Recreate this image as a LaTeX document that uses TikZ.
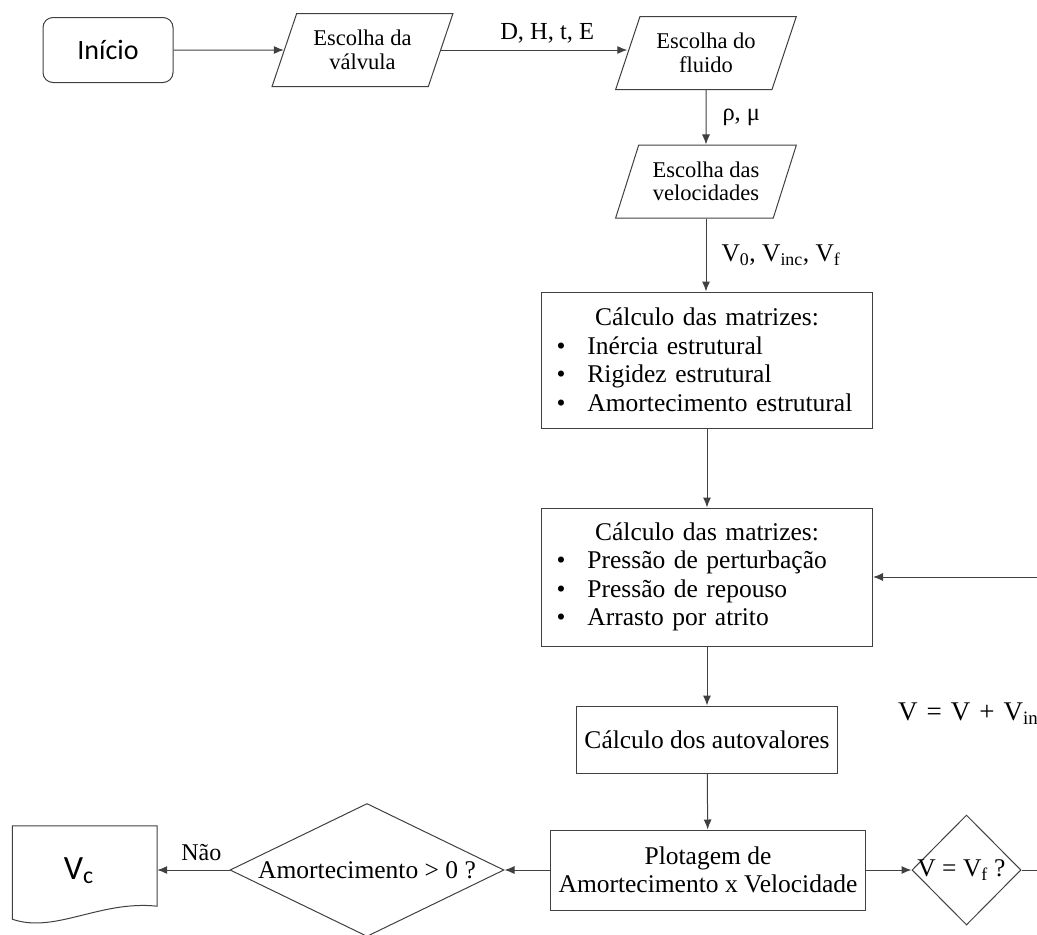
\documentclass[tikz,border=0pt]{standalone}
\usepackage{fontspec}
\setmainfont{Liberation Serif}
\newfontfamily\calibri{Carlito}
\usetikzlibrary{arrows.meta,positioning,calc,shapes.geometric}
\definecolor{edgegray}{HTML}{404040}
\tikzset{terminal/.style={rectangle,rounded corners=10pt,draw=edgegray,line width=1pt,minimum width=130pt,minimum height=65pt,font=\calibri\fontsize{28}{32}\selectfont},inout/.style={trapezium,trapezium left angle=65,trapezium right angle=115,trapezium stretches=true,draw=edgegray,line width=1pt,minimum width=181pt,minimum height=73pt,inner sep=0pt,align=center,font=\fontsize{22.5}{23.5}\selectfont},process/.style={rectangle,draw=edgegray,line width=1pt,inner sep=0pt,align=center,font=\fontsize{25.5}{28.5}\selectfont},decision/.style={diamond,draw=edgegray,line width=1pt,inner sep=0pt},flow/.style={-{Latex[length=10pt,width=8pt]},edgegray,line width=1pt},note/.style={text=black,font=\fontsize{24.5}{28}\selectfont,inner sep=0pt}}
\newcommand{\itm}[1]{\makebox[31pt][l]{\textbullet}#1}
\newcommand{\gap}{\hspace{9pt}}

\begin{document}
\begin{tikzpicture}[x=1pt,y=-1pt,bignote/.style={note,font=\fontsize{25.5}{28}\selectfont}]
\useasboundingbox (0,0) rectangle (1037,935);
\clip (0,0) rectangle (1037,935);
% top row
\node[terminal] (inicio) at (108,50) {Início};
\node[inout] (valv) at (362.5,50) {Escolha da\\válvula};
\node[inout] (fluido) at (706,53) {Escolha do\\fluido};
\node[inout] (veloc) at (706,181.5) {Escolha das\\velocidades};
% main column
\node[process,text width=301pt,inner xsep=15pt,minimum height=136pt,align=left] (estr) at (707,360) {\hfill Cálculo das matrizes:\hfill\null\\\itm{Inércia estrutural}\\\itm{Rigidez estrutural}\\\itm{Amortecimento estrutural}};
\node[process,text width=301pt,inner xsep=15pt,minimum height=138pt,align=left] (fluid) at (707,577) {\hfill Cálculo das matrizes:\hfill\null\\\itm{Pressão de perturbação}\\\itm{Pressão de repouso}\\\itm{Arrasto por atrito}};
\node[process,minimum width=261pt,minimum height=67pt] (autoval) at (707,739.5) {Cálculo dos autovalores};
\node[process,minimum width=315pt,minimum height=80pt] (plot) at (708,870) {Plotagem de\\Amortecimento x Velocidade};
% decisions and output
\node[decision,minimum width=274pt,minimum height=133pt,label={[bignote]center:Amortecimento > 0 ?}] (amort) at (367,870) {};
\node[decision,minimum width=109pt,minimum height=110pt,label={[bignote,xshift=-5pt]center:V = V\textsubscript{f} ?}] (vf) at (966.5,870) {};
\node[minimum width=144.5pt,minimum height=80pt,inner sep=0pt,label={[font=\calibri\fontsize{34}{38}\selectfont,inner sep=0pt,xshift=-6pt,yshift=-5pt]center:V\textsubscript{c}}] (vc) at (84.75,866) {};
\draw[edgegray,line width=1pt] (vc.north west) -- (vc.north east) -- (vc.south east) .. controls (100,900) and (55,934) .. ($(vc.south west)+(0,13)$) -- cycle;
\node[note,font=\fontsize{27}{30}\selectfont,anchor=west] (incr) at (898,714) {V\gap=\gap V\gap+\gap V\textsubscript{inc}};
\coordinate (loop) at (1065,870);
% connectors
\draw[flow] (inicio) -- (valv);
\draw[flow] (valv.east) -- node[note,above=6pt,xshift=13pt] {D, H, t, E} (valv.east -| fluido.west);
\draw[flow] (fluido) -- node[note,right=16pt] {ρ, μ} (veloc);
\draw[flow] (veloc.south) -- node[bignote,right=15pt] {V\textsubscript{0}, V\textsubscript{inc}, V\textsubscript{f}} (veloc.south |- estr.north);
\draw[flow] (estr) -- (fluid);
\draw[flow] (fluid) -- (autoval);
\draw[flow] (autoval) -- (plot);
\draw[flow] (plot) -- (vf);
\draw[flow] (plot) -- (amort);
\draw[flow] (amort.west) -- node[note,font=\fontsize{24}{26}\selectfont,above=9pt,xshift=8pt] {Não} (amort.west -| vc.east);
\draw[flow] (vf) -- (loop) |- (fluid);
\end{tikzpicture}
\end{document}
